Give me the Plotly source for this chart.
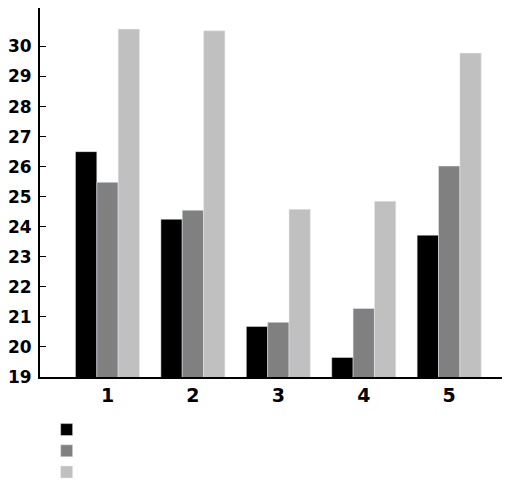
import plotly.graph_objects as go

categories = [1, 2, 3, 4, 5]
tick_labels = ["1", "2", "3", "4", "5"]

series_a = [26.5, 24.25, 20.68, 19.65, 23.72]   # black
series_b = [25.48, 24.55, 20.82, 21.28, 26.02]  # dark gray
series_c = [30.58, 30.52, 24.58, 24.85, 29.78]  # light gray

y_ticks = list(range(19, 31))

fig = go.Figure()
fig.add_trace(go.Bar(x=categories, y=series_a, name="", marker=dict(color="#000000")))
fig.add_trace(go.Bar(x=categories, y=series_b, name="",
                     marker=dict(color="#808080")))
fig.add_trace(go.Bar(x=categories, y=series_c, name="", marker=dict(color="#c0c0c0")))

# page body has an 8px margin, so the figure is sized to fit the window
fig.update_layout(
    width=502, height=480,
    margin=dict(l=32, r=7, t=0, b=111, autoexpand=False),
    paper_bgcolor="white", plot_bgcolor="white",
    barmode="group", bargap=0.25, bargroupgap=0,
    showlegend=True,
    legend=dict(
        xref="container", yref="container",
        x=0.077, y=1 - 406 / 480, xanchor="left", yanchor="top",
        font=dict(size=14, color="black"),
        itemwidth=30, tracegroupgap=0,
        bgcolor="rgba(0,0,0,0)",
    ),
)

fig.update_xaxes(
    range=[0.21, 5.63], automargin=False,
    tickvals=categories, ticktext=tick_labels,
    showline=True, linecolor="black", linewidth=2,
    showgrid=False, zeroline=False, ticks="",
    tickfont=dict(family="DejaVu Sans", size=19, color="black", weight="bold"),
)
fig.update_yaxes(
    range=[19, 31.28], automargin=False,
    tickvals=y_ticks,
    showline=True, linecolor="black", linewidth=2,
    showgrid=False, zeroline=False,
    ticks="inside", ticklen=6, tickcolor="black", tickwidth=1,
    ticklabelstandoff=3,
    tickfont=dict(family="DejaVu Sans", size=17, color="black", weight="bold"),
)

fig.write_html("out.html")
